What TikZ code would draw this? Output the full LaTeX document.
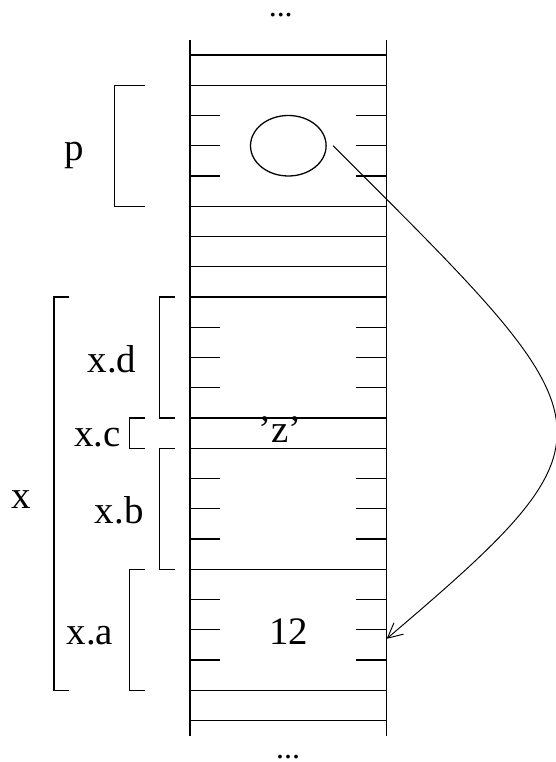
\documentclass[tikz,border=0pt]{standalone}
\usepackage{fontspec}
\setmainfont{Liberation Serif}
\usetikzlibrary{positioning,arrows.meta,shapes.geometric}
\tikzset{
  memline/.style={line width=0.6pt},
  brace/.style={line width=0.6pt},
  fieldlabel/.style={font=\fontsize{18.3}{22}\selectfont, anchor=base, inner sep=0pt},
  moredots/.style={font=\fontsize{15}{18}\selectfont, anchor=base, inner sep=0pt},
  ptrarrow/.style={-{Straight Barb[length=7pt,width=7pt]}, line width=0.45pt},
  ptrcell/.style={draw, ellipse, line width=0.6pt, minimum width=1.25cm, minimum height=1cm, inner sep=0pt}
}

\begin{document}
\begin{tikzpicture}[x=0.5cm, y=0.5cm]
  \useasboundingbox (-6.281,1.818) rectangle (12.099,-23.372);
  % memory column
  \draw[memline] (0,0.5) -- (0,-22.5);
  \draw[memline] (6.5,0.5) -- (6.5,-22.5);
  \foreach \k in {0,1,5,6,7,8,12,13,17,21,22}
    \draw[memline] (0,-\k) -- (6.5,-\k);
  \foreach \k in {2,3,4,9,10,11,14,15,16,18,19,20} {
    \draw[memline] (0,-\k) -- (1,-\k);
    \draw[memline] (5.5,-\k) -- (6.5,-\k);
  }
  % brackets
  \draw[brace] (-1.5,-1) -- (-2.5,-1) -- (-2.5,-5) -- (-1.5,-5);
  \draw[brace] (-4,-8) -- (-4.5,-8) -- (-4.5,-21) -- (-4,-21);
  \draw[brace] (-0.5,-8) -- (-1,-8) -- (-1,-12) -- (-0.5,-12);
  \draw[brace] (-1.5,-12) -- (-2,-12) -- (-2,-13) -- (-1.5,-13);
  \draw[brace] (-0.5,-13) -- (-1,-13) -- (-1,-17) -- (-0.5,-17);
  \draw[brace] (-1.5,-17) -- (-2,-17) -- (-2,-21) -- (-1.5,-21);
  % labels
  \node[moredots] (moretop) at (3,1.27) {...};
  \node[moredots] (morebot) at (3.24,-23.24) {...};
  \node[fieldlabel] (lblp) at (-3.83,-3.5) {p};
  \node[fieldlabel] (lblx) at (-5.59,-15) {x};
  \node[fieldlabel] (lbld) at (-2.58,-10.5) {x.d};
  \node[fieldlabel] (lblc) at (-3.06,-12.95) {x.c};
  \node[fieldlabel] (lblb) at (-2.34,-15.5) {x.b};
  \node[fieldlabel] (lbla) at (-3.31,-19.5) {x.a};
  \node[fieldlabel] (valc) at (2.98,-12.8) {'z'};
  \node[fieldlabel] (vala) at (3.27,-19.5) {12};
  % pointer
  \node[ptrcell] (ptr) at (3.25,-3) {};
  \coordinate (tgt) at (6.5,-19.3);
  \draw[ptrarrow] ([xshift=3pt]ptr.east) .. controls (14.0,-12.27) and (14.53,-12.47) .. (tgt);
\end{tikzpicture}
\end{document}
